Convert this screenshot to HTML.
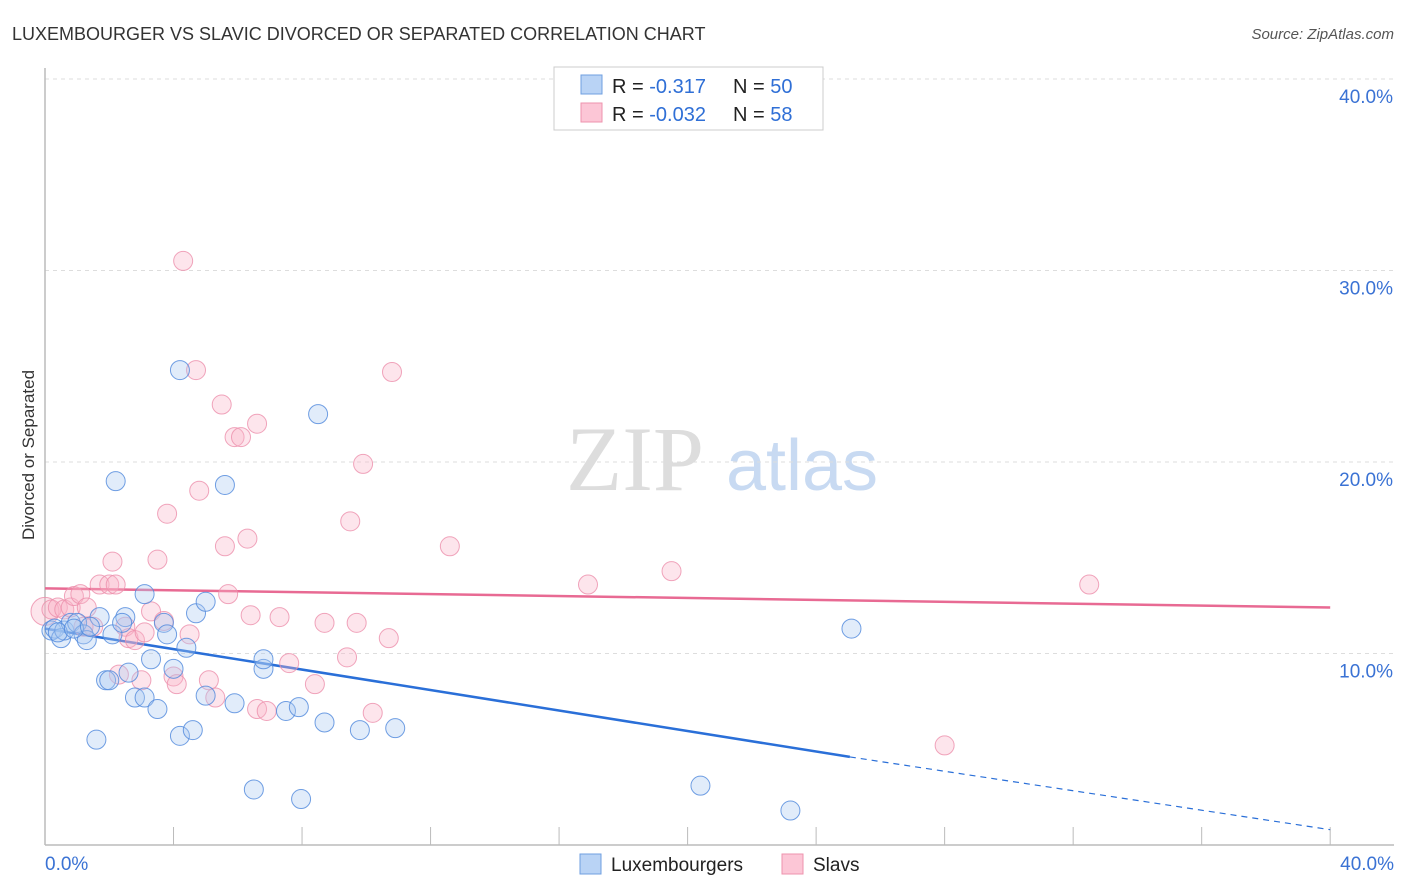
<!DOCTYPE html>
<html><head><meta charset="utf-8"><style>
body{margin:0;background:#fff;font-family:"Liberation Sans",sans-serif}
svg{display:block}
</style></head><body>
<svg id="chart" width="1406" height="892" xmlns="http://www.w3.org/2000/svg">
<text x="12" y="40" font-size="18" fill="#333">LUXEMBOURGER VS SLAVIC DIVORCED OR SEPARATED CORRELATION CHART</text>
<text x="1394" y="39" font-size="15" fill="#555" font-style="italic" text-anchor="end">Source: ZipAtlas.com</text>
<text x="34" y="455" font-size="17" fill="#333" text-anchor="middle" transform="rotate(-90 34 455)">Divorced or Separated</text>
<g><text x="635" y="490" font-size="92" fill="#ddd" font-family="Liberation Serif,serif" text-anchor="middle">ZIP</text><text x="802" y="490" font-size="72" fill="#c8daf2" text-anchor="middle">atlas</text></g>
<g id="grid"></g><g id="axes"></g><g id="lines"></g><g id="pts"></g>
<g>
<rect x="554" y="67" width="269" height="63" fill="#fff" stroke="#ccc"/>
<rect x="581" y="75" width="21" height="19" fill="#b9d3f5" stroke="#6f9fe0"/>
<rect x="581" y="103" width="21" height="19" fill="#fcc6d6" stroke="#ee93ad"/>
<text x="612" y="93" font-size="20" fill="#222">R = <tspan fill="#2f6fd6"> -0.317</tspan><tspan x="733">N = </tspan><tspan fill="#2f6fd6">50</tspan></text>
<text x="612" y="121" font-size="20" fill="#222">R = <tspan fill="#2f6fd6">-0.032</tspan><tspan x="733">N = </tspan><tspan fill="#2f6fd6"> 58</tspan></text>
</g>
<g>
<rect x="580" y="854" width="21" height="20" fill="#b9d3f5" stroke="#6f9fe0"/>
<text x="611" y="871" font-size="19" fill="#222">Luxembourgers</text>
<rect x="782" y="854" width="21" height="20" fill="#fcc6d6" stroke="#ee93ad"/>
<text x="813" y="871" font-size="19" fill="#222">Slavs</text>
</g>
</svg>
<script>
const yTicks=[10,20,30,40];
const yTickLabels=["10.0%","20.0%","30.0%","40.0%"];
const xTickLabels=["0.0%","40.0%"];
const luxX=[0.2,0.3,0.5,0.6,0.8,1.0,1.2,1.3,1.6,1.7,1.9,2.0,2.1,2.2,2.5,2.4,2.6,2.8,3.1,3.1,3.3,3.5,3.7,3.8,4.0,4.2,4.2,4.4,4.6,4.7,5.0,5.0,5.6,5.9,6.5,6.8,6.8,7.5,7.9,7.97,8.5,8.7,9.8,10.9,20.4,23.2,25.1,0.4,0.9,1.4];
const luxY=[11.2,11.3,10.8,11.2,11.6,11.6,11.0,10.7,5.5,11.9,8.6,8.6,11.0,19.0,11.9,11.6,9.0,7.7,7.7,13.1,9.7,7.1,11.6,11.0,9.2,5.7,24.8,10.3,6.0,12.1,12.7,7.8,18.8,7.4,2.9,9.2,9.7,7.0,7.2,2.4,22.5,6.4,6.0,6.1,3.1,1.8,11.3,11.1,11.3,11.4];
const slvX=[0.0,0.2,0.4,0.6,0.8,0.9,1.1,1.3,1.5,1.7,2.0,2.1,2.2,2.3,2.5,2.6,2.8,3.0,3.1,3.3,3.5,3.7,3.8,4.0,4.1,4.3,4.5,4.7,4.8,5.1,5.3,5.5,5.6,5.7,5.9,6.1,6.3,6.4,6.6,6.6,6.9,7.3,7.6,8.4,8.7,9.4,9.5,9.7,9.9,10.2,10.7,10.8,12.6,16.9,19.5,28.0,32.5,1.2];
const slvY=[12.2,12.3,12.4,12.3,12.4,13.0,13.1,12.4,11.4,13.6,13.6,14.8,13.6,8.9,11.4,10.8,10.7,8.6,11.1,12.2,14.9,11.7,17.3,8.8,8.4,30.5,11.0,24.8,18.5,8.6,7.7,23.0,15.6,13.1,21.3,21.3,16.0,12.0,22.0,7.1,7.0,11.9,9.5,8.4,11.6,9.8,16.9,11.6,19.9,6.9,10.8,24.7,15.6,13.6,14.3,5.2,13.6,11.4];
const luxLine=[0,11.3,25.05,4.6,40,0.8];
const slvLine=[0,13.4,40,12.4];
const NS="http://www.w3.org/2000/svg";
const X=v=>45+v*32.13, Y=v=>845-v*19.15;
function mk(parent,tag,attrs){const e=document.createElementNS(NS,tag);for(const k in attrs)e.setAttribute(k,attrs[k]);document.getElementById(parent).appendChild(e);return e;}
yTicks.forEach((t,i)=>{
 const g=mk('grid','line',{x1:45,x2:1394,y1:Y(t),y2:Y(t),stroke:'#ddd','stroke-dasharray':'4,4'});
 
 
 const l=mk('axes','text',{x:1393,y:Y(t)+24,'font-size':19,fill:'#3a72d4','text-anchor':'end'});
 l.textContent=yTickLabels[i];
 
 
});
const ax=mk('axes','line',{x1:45,x2:45,y1:68,y2:845,stroke:'#bbb','stroke-width':1.5});


const bx=mk('axes','line',{x1:45,x2:1394,y1:845,y2:845,stroke:'#bbb','stroke-width':1.5});


for(let i=0;i<=10;i++){const t=mk('axes','line',{x1:X(i*4),x2:X(i*4),y1:827,y2:845,stroke:'#bbb'});
 
 }
[[0,xTickLabels[0],'start',45],[40,xTickLabels[1],'end',1394]].forEach(a=>{const t=mk('axes','text',{x:a[3],y:870,'font-size':19,fill:'#3a72d4','text-anchor':a[2]});t.textContent=a[1];
 
 });
function pts(xs,ys,fill,stroke,name){xs.forEach((x,i)=>{const c=mk('pts','circle',{cx:X(x),cy:Y(ys[i]),r:(name==='slav-point'&&i===0)?14:9.5,fill:fill,'fill-opacity':0.35,stroke:stroke,'stroke-width':1,'stroke-opacity':0.8});
 
 });}
pts(slvX,slvY,'#f9b4c9','#ec8fab','slav-point');
pts(luxX,luxY,'#a9c9f2','#4d87dc','luxembourger-point');
let l1=mk('lines','line',{x1:X(luxLine[0]),y1:Y(luxLine[1]),x2:X(luxLine[2]),y2:Y(luxLine[3]),stroke:'#2a6fd8','stroke-width':2.5});


let l2=mk('lines','line',{x1:X(luxLine[2]),y1:Y(luxLine[3]),x2:X(luxLine[4]),y2:Y(luxLine[5]),stroke:'#2a6fd8','stroke-width':1.2,'stroke-dasharray':'6,5'});


let l3=mk('lines','line',{x1:X(slvLine[0]),y1:Y(slvLine[1]),x2:X(slvLine[2]),y2:Y(slvLine[3]),stroke:'#e86a93','stroke-width':2.5});


</script>
</body></html>
